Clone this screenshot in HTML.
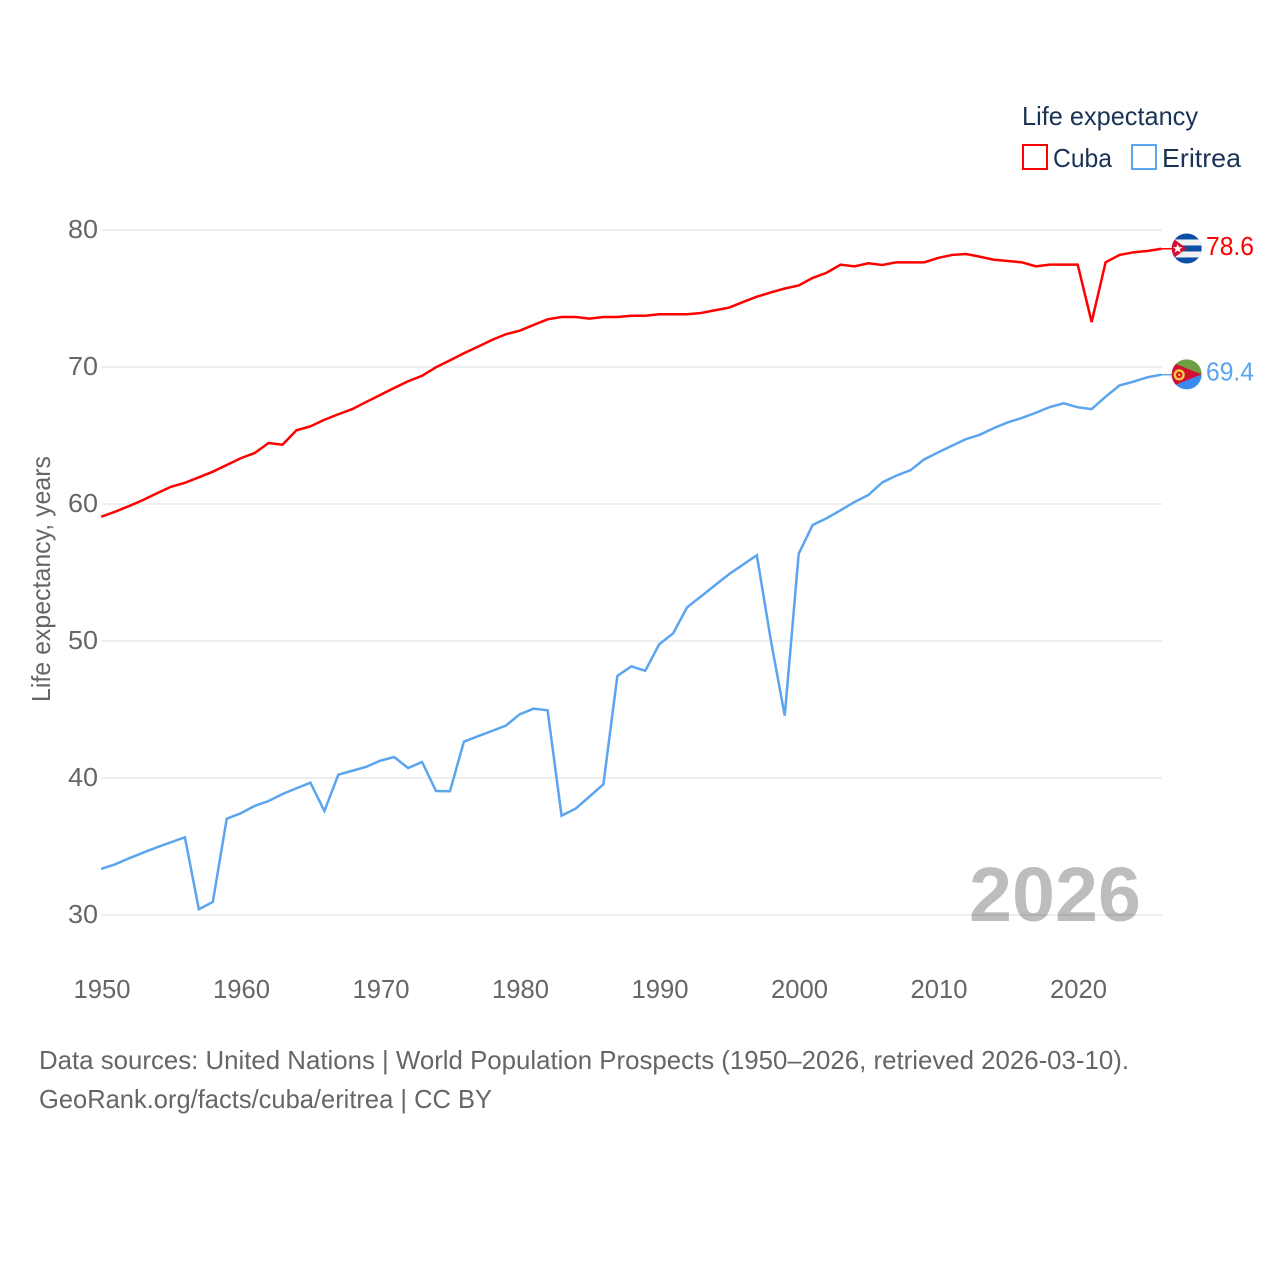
<!DOCTYPE html>
<html lang="en">
<head>
<meta charset="utf-8">
<title>Life expectancy: Cuba and Eritrea</title>
<style>
html,body{margin:0;padding:0;background:#fff;width:1280px;height:1280px;overflow:hidden}
svg{display:block;font-family:"Liberation Sans",sans-serif}
</style>
</head>
<body>
<svg id="chart" xmlns="http://www.w3.org/2000/svg" width="1280" height="1280" viewBox="0 0 1280 1280">
  <defs>
    <clipPath id="flag-clip"><circle cx="0" cy="0" r="15"/></clipPath>
  </defs>
  <rect width="1280" height="1280" fill="#fff"/>
  <g id="grid"></g>
  <g id="ylabels"></g>
  <g id="xlabels"></g>
  <text transform="translate(50,702) rotate(-90)" font-size="26" fill="#666" textLength="246" lengthAdjust="spacingAndGlyphs">Life expectancy, years</text>
  <text x="969" y="921" font-size="77" font-weight="700" fill="#000" fill-opacity="0.26" textLength="172" lengthAdjust="spacingAndGlyphs">2026</text>
  <g id="series"></g>

  <g id="flag-cuba">
    <g clip-path="url(#flag-clip)">
      <rect x="-15" y="-15" width="30" height="30" fill="#0b4ea2"/>
      <rect x="-15" y="-9" width="30" height="6" fill="#f2f2f2"/>
      <rect x="-15" y="3" width="30" height="6" fill="#f2f2f2"/>
      <polygon points="-19,-14 0,0 -19,14" fill="#d21034"/>
      <polygon points="-9,-4.5 -7.7,-1.3 -4.4,-1.3 -7,0.8 -6,4 -9,2.1 -12,4 -11,0.8 -13.6,-1.3 -10.3,-1.3" fill="#fff"/>
    </g>
  </g>
  <g id="flag-eritrea">
    <g clip-path="url(#flag-clip)">
      <rect x="-15" y="-15" width="30" height="15" fill="#6f9e43"/>
      <rect x="-15" y="0" width="30" height="15" fill="#3b8bef"/>
      <polygon points="-20,-14 15,0 -20,14" fill="#d21034"/>
      <circle cx="-7.5" cy="0.5" r="4.4" fill="none" stroke="#f7c83c" stroke-width="2.4"/>
      <circle cx="-7.5" cy="0.5" r="1.2" fill="#f7c83c"/>
    </g>
  </g>
  <g id="endlabels"></g>

  <g>
    <text x="1022" y="125" font-size="26" fill="#1b3354" textLength="176" lengthAdjust="spacingAndGlyphs">Life expectancy</text>
    <g>
      <rect x="1023" y="145" width="24" height="24" fill="#fff" stroke="#ff0000" stroke-width="2"/>
      <text x="1053" y="167" font-size="26" fill="#1b3354" textLength="59" lengthAdjust="spacingAndGlyphs">Cuba</text>
    </g>
    <g>
      <rect x="1132" y="145" width="24" height="24" fill="#fff" stroke="#5ba4ee" stroke-width="2"/>
      <text x="1162" y="167" font-size="26" fill="#1b3354" textLength="79" lengthAdjust="spacingAndGlyphs">Eritrea</text>
    </g>
  </g>

  <text x="39" y="1069" font-size="26" fill="#666" textLength="1090" lengthAdjust="spacingAndGlyphs">Data sources: United Nations | World Population Prospects (1950–2026, retrieved 2026-03-10).</text>
  <text x="39" y="1108" font-size="26" fill="#666" textLength="453" lengthAdjust="spacingAndGlyphs">GeoRank.org/facts/cuba/eritrea | CC BY</text>
</svg>
<script>
const years = [1950,1951,1952,1953,1954,1955,1956,1957,1958,1959,
  1960,1961,1962,1963,1964,1965,1966,1967,1968,1969,
  1970,1971,1972,1973,1974,1975,1976,1977,1978,1979,
  1980,1981,1982,1983,1984,1985,1986,1987,1988,1989,
  1990,1991,1992,1993,1994,1995,1996,1997,1998,1999,
  2000,2001,2002,2003,2004,2005,2006,2007,2008,2009,
  2010,2011,2012,2013,2014,2015,2016,2017,2018,2019,
  2020,2021,2022,2023,2024,2025,2026];
const cubaValues = [59.07,59.44,59.85,60.29,60.78,61.26,61.55,61.95,62.36,62.85,
  63.34,63.72,64.45,64.33,65.38,65.67,66.15,66.55,66.93,67.45,
  67.96,68.47,68.96,69.36,69.98,70.48,71.0,71.48,71.97,72.39,
  72.65,73.07,73.48,73.65,73.65,73.53,73.65,73.65,73.74,73.74,
  73.85,73.85,73.85,73.94,74.14,74.33,74.74,75.13,75.44,75.73,
  75.95,76.5,76.88,77.47,77.35,77.57,77.45,77.64,77.64,77.64,
  77.96,78.18,78.25,78.05,77.83,77.74,77.64,77.35,77.47,77.47,
  77.47,73.28,77.64,78.18,78.37,78.47,78.63];
const eritreaValues = [33.36,33.7,34.14,34.55,34.94,35.31,35.67,30.42,30.95,37.03,
  37.42,37.96,38.32,38.83,39.25,39.66,37.59,40.24,40.53,40.82,
  41.26,41.53,40.73,41.17,39.05,39.03,42.65,43.04,43.43,43.82,
  44.65,45.06,44.94,37.25,37.76,38.64,39.54,47.45,48.15,47.83,
  49.76,50.56,52.46,53.26,54.07,54.87,55.57,56.26,50.07,44.55,
  56.37,58.47,58.96,59.54,60.15,60.66,61.58,62.07,62.46,63.26,
  63.77,64.26,64.74,65.06,65.55,65.96,66.28,66.66,67.08,67.35,
  67.06,66.93,67.83,68.66,68.93,69.25,69.44];
const yTicks = [30,40,50,60,70,80];
const xTicks = [1950,1960,1970,1980,1990,2000,2010,2020];

const NS = 'http://www.w3.org/2000/svg';
const xScale = function (year) { return 101.2 + (year - 1950) * (1060.2 / 76); };
const yScale = function (v) { return 915 - (v - 30) * (685 / 50); };

const grid = document.getElementById('grid');
const ylabels = document.getElementById('ylabels');
yTicks.forEach(function (t) {
  const line = document.createElementNS(NS, 'line');
  
  
  line.setAttribute('x1', 102);
  line.setAttribute('x2', 1162);
  line.setAttribute('y1', yScale(t));
  line.setAttribute('y2', yScale(t));
  line.setAttribute('stroke', '#e8e8e8');
  line.setAttribute('stroke-width', '1.5');
  grid.appendChild(line);

  const label = document.createElementNS(NS, 'text');
  
  
  label.setAttribute('x', 68);
  label.setAttribute('y', yScale(t) + 8);
  label.setAttribute('font-size', '26');
  label.setAttribute('fill', '#666');
  label.setAttribute('textLength', '30');
  label.setAttribute('lengthAdjust', 'spacingAndGlyphs');
  label.textContent = String(t);
  ylabels.appendChild(label);
});

const xlabels = document.getElementById('xlabels');
xTicks.forEach(function (t) {
  const label = document.createElementNS(NS, 'text');
  
  
  label.setAttribute('x', xScale(t) - 27.7);
  label.setAttribute('y', 998);
  label.setAttribute('font-size', '26');
  label.setAttribute('fill', '#666');
  label.setAttribute('textLength', '57');
  label.setAttribute('lengthAdjust', 'spacingAndGlyphs');
  label.textContent = String(t);
  xlabels.appendChild(label);
});

const seriesGroup = document.getElementById('series');
function drawSeries(values, color, name) {
  const last = values[values.length - 1];
  const pts = values.map(function (v, i) {
    return xScale(years[i]).toFixed(2) + ',' + yScale(v).toFixed(2);
  }).join(' ');
  const line = document.createElementNS(NS, 'polyline');
  
  
  line.setAttribute('points', pts);
  line.setAttribute('fill', 'none');
  line.setAttribute('stroke', color);
  line.setAttribute('stroke-width', '2.5');
  line.setAttribute('stroke-linejoin', 'miter');
  seriesGroup.appendChild(line);

  const conn = document.createElementNS(NS, 'line');
  
  
  conn.setAttribute('x1', xScale(2026));
  conn.setAttribute('x2', 1172);
  conn.setAttribute('y1', yScale(last));
  conn.setAttribute('y2', yScale(last));
  conn.setAttribute('stroke', color);
  conn.setAttribute('stroke-width', '1.5');
  seriesGroup.appendChild(conn);

  document.getElementById('flag-' + name).setAttribute('transform', 'translate(1186.7,' + (yScale(last) - 0.3).toFixed(2) + ')');

  const label = document.createElementNS(NS, 'text');
  
  
  label.setAttribute('x', 1206);
  label.setAttribute('y', yScale(last) + 6);
  label.setAttribute('font-size', '26');
  label.setAttribute('fill', color);
  label.setAttribute('textLength', '48');
  label.setAttribute('lengthAdjust', 'spacingAndGlyphs');
  label.textContent = last.toFixed(1);
  document.getElementById('endlabels').appendChild(label);
}
drawSeries(cubaValues, '#ff0000', 'cuba');
drawSeries(eritreaValues, '#5ba4ee', 'eritrea');
</script>
</body>
</html>
